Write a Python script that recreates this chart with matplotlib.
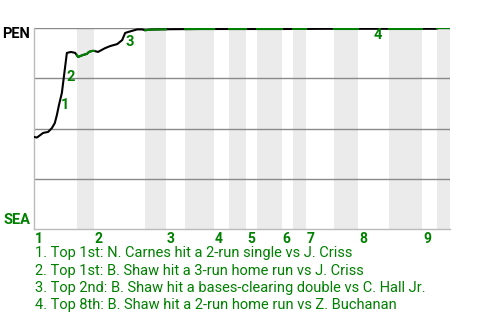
import matplotlib
matplotlib.use("Agg")
import matplotlib.pyplot as plt
import numpy as np

plt.rcParams['font.family'] = ['Roboto', 'DejaVu Sans']

GREEN = '#008000'

# half-inning boundaries (event index units), top halves unshaded, bottom halves shaded
half_bounds = [0, 10.3, 14.4, 26.7, 31.7, 36.3, 43.3, 46.9, 51.0, 53.6, 59.6,
               62.3, 65.4, 72.1, 77.9, 85.3, 93.3, 96.9, 100]
innings = ['1', '2', '3', '4', '5', '6', '7', '8', '9']

# win probability for PEN
wp_x = [0, 0.7, 2.2, 3.4, 4.3, 5.0, 5.5, 6.0, 6.7, 7.2, 7.9, 8.9, 9.9, 10.6, 11.8,
        12.7, 13.2, 14.0, 14.4, 15.4, 17.1, 18.3, 20.0, 21.2, 21.9, 22.6, 24.8,
        26.0, 26.7, 28.0, 30.0, 33.0, 40.0, 45.0, 50.0, 55.0, 60.0, 70.0, 80.0,
        90.0, 96.5, 97.2, 100]
wp_y = [0.458, 0.455, 0.478, 0.483, 0.502, 0.527, 0.567, 0.617, 0.677, 0.76, 0.876,
        0.881, 0.876, 0.856, 0.866, 0.871, 0.881, 0.886, 0.886, 0.881, 0.900, 0.910,
        0.920, 0.940, 0.975, 0.980, 0.993, 0.993, 0.989, 0.992, 0.993, 0.994, 0.995,
        0.995, 0.995, 0.995, 0.995, 0.996, 0.996, 0.996, 0.996, 1.0, 1.0]

# key events: label, x, y
ev_labels = ['1', '2', '3', '4']
ev_x = [7.5, 8.7, 23.1, 82.7]
ev_y = [0.615, 0.755, 0.93, 0.963]
ev_text = [
    "1. Top 1st: N. Carnes hit a 2-run single vs J. Criss",
    "2. Top 1st: B. Shaw hit a 3-run home run vs J. Criss",
    "3. Top 2nd: B. Shaw hit a bases-clearing double vs C. Hall Jr.",
    "4. Top 8th: B. Shaw hit a 2-run home run vs Z. Buchanan",
]

fig = plt.figure(figsize=(4.8, 3.2), dpi=100)
ax = fig.add_axes([34/480, 1-229/320, (450-34)/480, (229-28)/320])
ax.set_xlim(half_bounds[0], half_bounds[-1])
ax.set_ylim(0, 1)

# shaded bottom halves
for i in range(1, len(half_bounds) - 1, 2):
    ax.axvspan(half_bounds[i], half_bounds[i+1], color='#ebebeb', lw=0, zorder=0)

for g in [0.25, 0.5, 0.75, 1.0]:
    ax.axhline(g, color='#8a8a8a', lw=1, zorder=1)

x = np.array(wp_x)
y = np.array(wp_y)
ax.plot(x, y, color='black', lw=1.5, zorder=3, solid_joinstyle='round')
for i in range(1, len(half_bounds) - 1, 2):
    a, b = half_bounds[i], half_bounds[i+1]
    m = (x > a) & (x < b)
    xs = np.concatenate([[a], x[m], [b]])
    ys = np.interp(xs, x, y)
    ax.plot(xs, ys, color=GREEN, lw=1.5, zorder=4)

for lab, ex, ey in zip(ev_labels, ev_x, ev_y):
    ax.text(ex, ey, lab, color=GREEN, fontsize=10.5, fontweight='bold',
            ha='center', va='center', zorder=5)

for s in ['top', 'right']:
    ax.spines[s].set_visible(False)
for s in ['left', 'bottom']:
    ax.spines[s].set_color('#bbbbbb')
    ax.spines[s].set_linewidth(1)
ax.set_xticks([])
ax.set_yticks([])

fig.text(30/480, 1 - 34.5/320, 'PEN', ha='right', va='center',
         fontsize=10.5, fontweight='bold', color='black')
fig.text(30/480, 1 - 220.5/320, 'SEA', ha='right', va='center',
         fontsize=10.5, fontweight='bold', color=GREEN)

for k, inn in enumerate(innings):
    ax.text(half_bounds[2*k] + 0.2, -0.015, inn, ha='left', va='top',
            fontsize=10, fontweight='bold', color=GREEN,
            transform=ax.get_xaxis_transform())

for j, t in enumerate(ev_text):
    fig.text(35/480, 1 - (253 + 17.5*j)/320, t, ha='left', va='center',
             fontsize=10.5, color=GREEN)

fig.savefig('out.png', dpi=100)
